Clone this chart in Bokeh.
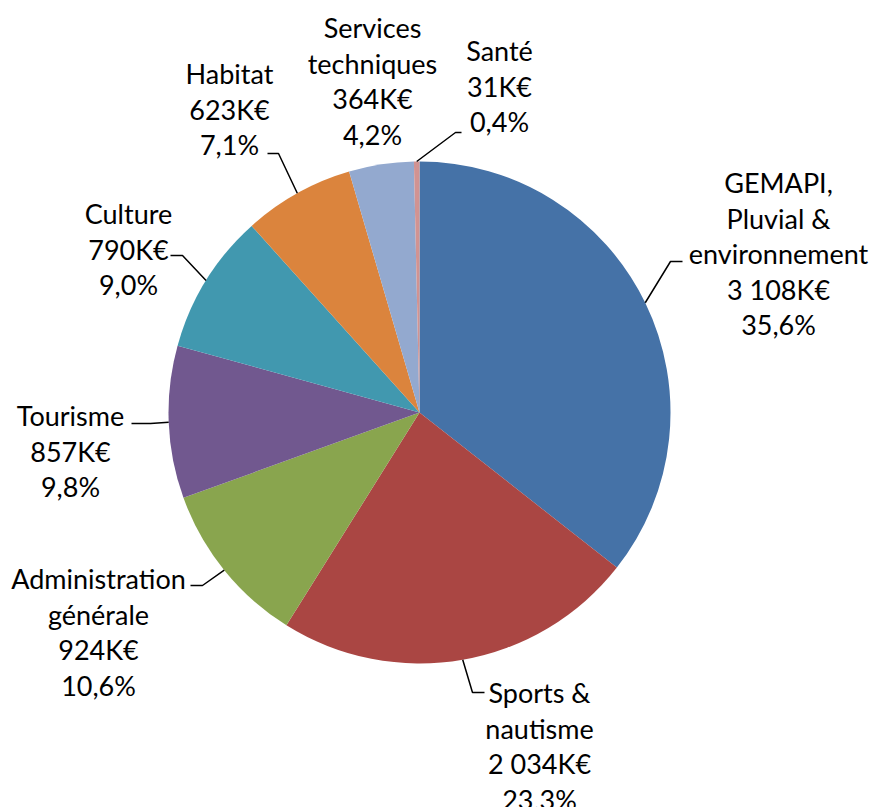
import math
from bokeh.plotting import figure
from bokeh.models import Range1d
from bokeh.core.properties import value
from bokeh.embed import file_html
from bokeh.resources import INLINE

# ---- data ----
names = ["GEMAPI,\nPluvial &\nenvironnement", "Sports &\nnautisme", "Administration\ngénérale",
         "Tourisme", "Culture", "Habitat", "Services\ntechniques", "Santé"]
values_k = [3108, 2034, 924, 857, 790, 623, 364, 31]
colors = ["#4572A7", "#AA4643", "#89A54E", "#71588F", "#4198AF", "#DB843D", "#93A9CF", "#D19392"]

# ---- layout (picture pixel coords) ----
W, H = 874, 807
CX, CY, R = 419, 412, 251
LINE_H = 35.5
label_pos = [(778, 182), (539, 692), (98, 578), (70, 415), (128, 213), (229, 73), (372, 27), (499, 50)]
# elbow point and horizontal end of each leader (None = no leader)
leaders = [((670, 261), 682), ((472, 692), 484), ((202, 585), 190), ((150, 423), 131),
           ((182, 255), 170), ((278, 153), 267), None, ((455, 132), 461)]


def X(px):
    return px


def Y(py):
    return H - py


total = sum(values_k)
p = figure(width=W, height=H, output_backend="svg", toolbar_location=None,
           x_range=Range1d(0, W), y_range=Range1d(0, H), min_border=0)
p.axis.visible = False
p.grid.visible = False
p.outline_line_color = None
p.background_fill_color = "white"
p.border_fill_color = "white"

cum = 0.0
starts, ends, mids = [], [], []
for v in values_k:
    f = v / total
    a0 = math.pi / 2 - 2 * math.pi * cum
    a1 = math.pi / 2 - 2 * math.pi * (cum + f)
    starts.append(a0)
    ends.append(a1)
    mids.append((a0 + a1) / 2)
    cum += f

p.wedge(x=[X(CX)] * len(values_k), y=[Y(CY)] * len(values_k), radius=R,
        start_angle=starts, end_angle=ends, direction="clock",
        fill_color=colors, line_color=None)


def fmt_k(v):
    s = f"{v:,}".replace(",", " ")
    return s + "K€"


tx, ty, tt = [], [], []
for i, v in enumerate(values_k):
    pct = f"{100 * v / total:.1f}".replace(".", ",") + "%"
    lines = names[i].split("\n") + [fmt_k(v), pct]
    lx, ly = label_pos[i]
    for j, ln in enumerate(lines):
        tx.append(X(lx))
        ty.append(Y(ly + j * LINE_H))
        tt.append(ln)
    ld = leaders[i]
    if ld is not None:
        sx = CX + R * math.cos(mids[i])
        sy = CY - R * math.sin(mids[i])
        (ex, ey), hx = ld
        p.line(x=[X(sx), X(ex), X(hx)], y=[Y(sy), Y(ey), Y(ey)], line_color="black", line_width=1.5)

p.text(x=tx, y=ty, text=tt, text_align="center", text_baseline="middle",
       text_font=value("Lato"), text_font_size="27px", text_color="black")

open("out.html", "w").write(file_html(p, INLINE))
